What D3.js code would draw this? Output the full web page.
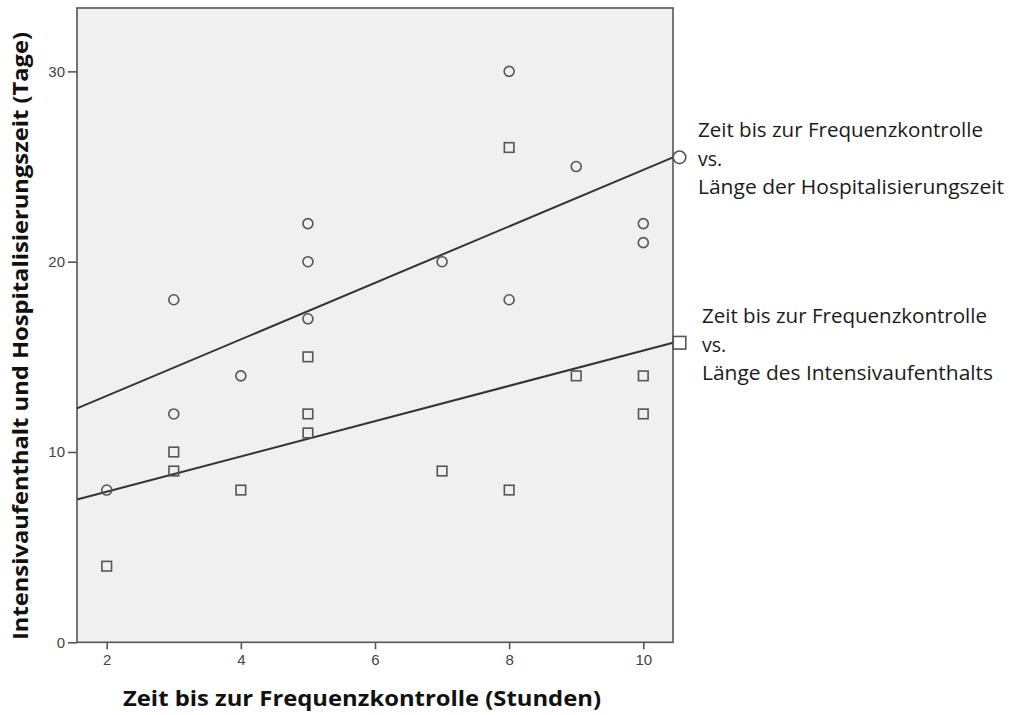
<!DOCTYPE html>
<html>
<head>
<meta charset="utf-8">
<script src="https://cdn.jsdelivr.net/npm/d3@7"></script>
<style>
  body { margin: 0; background: #fff; }
  svg text { font-kerning: normal; }
</style>
</head>
<body>
<svg id="chart" width="1009" height="715"></svg>
<script>
// Zeit bis zur Frequenzkontrolle (Stunden) je Patient
const stunden = [2, 3, 3, 4, 5, 5, 5, 7, 8, 8, 9, 10, 10];
// Länge der Hospitalisierungszeit (Tage)
const hospitalisierung = [8, 18, 12, 14, 22, 20, 17, 20, 30, 18, 25, 22, 21];
// Länge des Intensivaufenthalts (Tage)
const intensiv = [4, 10, 9, 8, 15, 12, 11, 9, 26, 8, 14, 14, 12];

const xTicks = [2, 4, 6, 8, 10];
const yTicks = [0, 10, 20, 30];
const xDomain = [1.557, 10.443];
const yDomain = [0, 33.33];

const legendHosp = ["Zeit bis zur Frequenzkontrolle", "vs.", "Länge der Hospitalisierungszeit"];
const legendIntensiv = ["Zeit bis zur Frequenzkontrolle", "vs.", "Länge des Intensivaufenthalts"];
const xTitle = "Zeit bis zur Frequenzkontrolle (Stunden)";
const yTitle = "Intensivaufenthalt und Hospitalisierungszeit (Tage)";

const svg = d3.select("#chart");
const plot = { left: 77, right: 673, top: 8, bottom: 642.3 };

const x = d3.scaleLinear().domain(xDomain).range([plot.left, plot.right]);
const y = d3.scaleLinear().domain(yDomain).range([plot.bottom, plot.top]);

const ink = "#555";
const lineInk = "#333";

// Ordinary least squares fit
function fit(xs, ys) {
  const mx = d3.mean(xs), my = d3.mean(ys);
  let sxy = 0, sxx = 0;
  xs.forEach((v, i) => { sxy += (v - mx) * (ys[i] - my); sxx += (v - mx) * (v - mx); });
  const b = sxy / sxx;
  const a = my - b * mx;
  return v => a + b * v;
}

// Plot area
svg.append("rect")
  .attr("x", plot.left).attr("y", plot.top)
  .attr("width", plot.right - plot.left).attr("height", plot.bottom - plot.top)
  .attr("fill", "#f0f0f0").attr("stroke", ink).attr("stroke-width", 1.6);

// Axes
const xAxis = svg.append("g")
  .attr("transform", `translate(0,${plot.bottom})`)
  .call(d3.axisBottom(x).tickValues(xTicks).tickSize(7).tickPadding(5).tickFormat(d3.format("d")));
const yAxis = svg.append("g")
  .attr("transform", `translate(${plot.left},0)`)
  .call(d3.axisLeft(y).tickValues(yTicks).tickSize(9).tickPadding(3).tickFormat(d3.format("d")));

[xAxis, yAxis].forEach(g => {
  g.attr("font-size", 15).attr("font-family", "'Liberation Sans', Arial, sans-serif");
  g.select(".domain").remove();
  g.selectAll(".tick line").attr("stroke", ink).attr("stroke-width", 1.6);
  g.selectAll(".tick text").attr("fill", "#444");
});

// Fit lines
const series = [
  { ys: hospitalisierung, shape: "circle", legend: legendHosp, textX: 698, baseline: 137 },
  { ys: intensiv, shape: "square", legend: legendIntensiv, textX: 702, baseline: 323 }
];

series.forEach(s => {
  const f = fit(stunden, s.ys);
  svg.append("line")
    .attr("x1", x(xDomain[0])).attr("y1", y(f(xDomain[0])))
    .attr("x2", x(xDomain[1])).attr("y2", y(f(xDomain[1])))
    .attr("stroke", lineInk).attr("stroke-width", 2);
  s.endY = y(f(xDomain[1]));
});

// Data points
const pts = svg.append("g").attr("fill", "none").attr("stroke", ink).attr("stroke-width", 1.6);
pts.selectAll("circle.hosp")
  .data(stunden.map((v, i) => [v, hospitalisierung[i]]))
  .join("circle").attr("class", "hosp")
  .attr("cx", d => x(d[0])).attr("cy", d => y(d[1])).attr("r", 5);
pts.selectAll("rect.intensiv")
  .data(stunden.map((v, i) => [v, intensiv[i]]))
  .join("rect").attr("class", "intensiv")
  .attr("x", d => x(d[0]) - 4.8).attr("y", d => y(d[1]) - 4.8)
  .attr("width", 9.6).attr("height", 9.6);

// Line-end markers and labels
series.forEach(s => {
  const mx = plot.right + 6.5;
  if (s.shape === "circle") {
    svg.append("circle").attr("cx", mx).attr("cy", s.endY).attr("r", 6.3)
      .attr("fill", "#fff").attr("stroke", ink).attr("stroke-width", 1.6);
  } else {
    svg.append("rect").attr("x", mx - 6.3).attr("y", s.endY - 6.3)
      .attr("width", 12.6).attr("height", 12.6)
      .attr("fill", "#fff").attr("stroke", ink).attr("stroke-width", 1.6);
  }
  const t = svg.append("g")
    .style("font-family", "'Open Sans', 'Noto Sans', sans-serif")
    .style("font-size", "19.5px")
    .attr("fill", "#1a1a1a");
  s.legend.forEach((line, i) => {
    const el = t.append("text").attr("x", s.textX).attr("y", s.baseline + i * 28.5).text(line);
    if (line.length > 10) {
      el.attr("textLength", line === legendHosp[2] ? 306 : (line === legendIntensiv[2] ? 291 : 285))
        .attr("lengthAdjust", "spacingAndGlyphs");
    }
  });
});

// Axis titles
svg.append("text")
  .attr("x", 362).attr("y", 706)
  .attr("text-anchor", "middle")
  .attr("textLength", 478).attr("lengthAdjust", "spacingAndGlyphs")
  .style("font-family", "'Open Sans', 'Noto Sans', sans-serif")
  .style("font-size", "22px").style("font-weight", "bold")
  .attr("fill", "#111")
  .text(xTitle);

svg.append("text")
  .attr("transform", "translate(28,336) rotate(-90)")
  .attr("text-anchor", "middle")
  .attr("textLength", 608).attr("lengthAdjust", "spacingAndGlyphs")
  .style("font-family", "'Open Sans', 'Noto Sans', sans-serif")
  .style("font-size", "22px").style("font-weight", "bold")
  .attr("fill", "#111")
  .text(yTitle);
</script>
</body>
</html>
